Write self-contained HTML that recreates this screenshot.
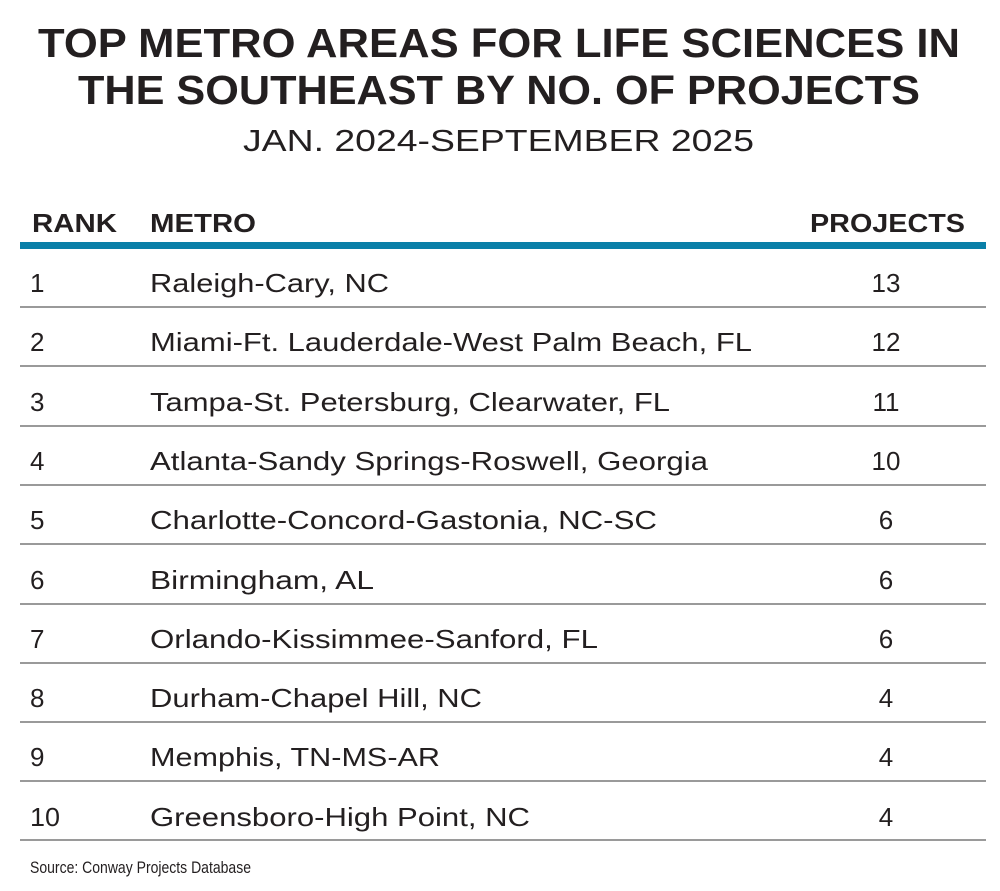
<!DOCTYPE html>
<html><head><meta charset="utf-8"><style>
html,body{margin:0;padding:0;background:#fff;}
svg{display:block}
text{font-family:"Liberation Sans",sans-serif;fill:#231f20}
</style></head><body>
<svg width="1000" height="891" viewBox="0 0 1000 891" xmlns="http://www.w3.org/2000/svg">
<g font-weight="bold" font-size="41">
<text x="38" y="57" textLength="922" lengthAdjust="spacingAndGlyphs">TOP METRO AREAS FOR LIFE SCIENCES IN</text>
<text x="78" y="104" textLength="842" lengthAdjust="spacingAndGlyphs">THE SOUTHEAST BY NO. OF PROJECTS</text>
</g>
<text x="243" y="151" font-size="31" textLength="511" lengthAdjust="spacingAndGlyphs">JAN. 2024-SEPTEMBER 2025</text>
<g font-weight="bold" font-size="26">
<text x="32" y="232" textLength="85" lengthAdjust="spacingAndGlyphs">RANK</text>
<text x="150" y="232" textLength="106" lengthAdjust="spacingAndGlyphs">METRO</text>
<text x="810" y="232" textLength="155" lengthAdjust="spacingAndGlyphs">PROJECTS</text>
</g>
<rect x="20" y="242" width="966" height="7" fill="#0a7fa8"/>
<g fill="#9a9a9a">
<rect x="20" y="306" width="966" height="2"/>
<rect x="20" y="365" width="966" height="2"/>
<rect x="20" y="425" width="966" height="2"/>
<rect x="20" y="484" width="966" height="2"/>
<rect x="20" y="543" width="966" height="2"/>
<rect x="20" y="603" width="966" height="2"/>
<rect x="20" y="662" width="966" height="2"/>
<rect x="20" y="721" width="966" height="2"/>
<rect x="20" y="780" width="966" height="2"/>
<rect x="20" y="839" width="966" height="2"/>
</g>
<g font-size="26">
<text x="30" y="292">1</text>
<text x="150" y="292" textLength="239" lengthAdjust="spacingAndGlyphs">Raleigh-Cary, NC</text>
<text x="886" y="292" text-anchor="middle">13</text>
<text x="30" y="351">2</text>
<text x="150" y="351" textLength="602" lengthAdjust="spacingAndGlyphs">Miami-Ft. Lauderdale-West Palm Beach, FL</text>
<text x="886" y="351" text-anchor="middle">12</text>
<text x="30" y="411">3</text>
<text x="150" y="411" textLength="520" lengthAdjust="spacingAndGlyphs">Tampa-St. Petersburg, Clearwater, FL</text>
<text x="886" y="411" text-anchor="middle">11</text>
<text x="30" y="470">4</text>
<text x="150" y="470" textLength="558" lengthAdjust="spacingAndGlyphs">Atlanta-Sandy Springs-Roswell, Georgia</text>
<text x="886" y="470" text-anchor="middle">10</text>
<text x="30" y="529">5</text>
<text x="150" y="529" textLength="507" lengthAdjust="spacingAndGlyphs">Charlotte-Concord-Gastonia, NC-SC</text>
<text x="886" y="529" text-anchor="middle">6</text>
<text x="30" y="589">6</text>
<text x="150" y="589" textLength="224" lengthAdjust="spacingAndGlyphs">Birmingham, AL</text>
<text x="886" y="589" text-anchor="middle">6</text>
<text x="30" y="648">7</text>
<text x="150" y="648" textLength="448" lengthAdjust="spacingAndGlyphs">Orlando-Kissimmee-Sanford, FL</text>
<text x="886" y="648" text-anchor="middle">6</text>
<text x="30" y="707">8</text>
<text x="150" y="707" textLength="332" lengthAdjust="spacingAndGlyphs">Durham-Chapel Hill, NC</text>
<text x="886" y="707" text-anchor="middle">4</text>
<text x="30" y="766">9</text>
<text x="150" y="766" textLength="290" lengthAdjust="spacingAndGlyphs">Memphis, TN-MS-AR</text>
<text x="886" y="766" text-anchor="middle">4</text>
<text x="30" y="826" textLength="30" lengthAdjust="spacingAndGlyphs">10</text>
<text x="150" y="826" textLength="380" lengthAdjust="spacingAndGlyphs">Greensboro-High Point, NC</text>
<text x="886" y="826" text-anchor="middle">4</text>
</g>
<text x="30" y="873" font-size="17" textLength="221" lengthAdjust="spacingAndGlyphs">Source: Conway Projects Database</text>
</svg>
</body></html>
